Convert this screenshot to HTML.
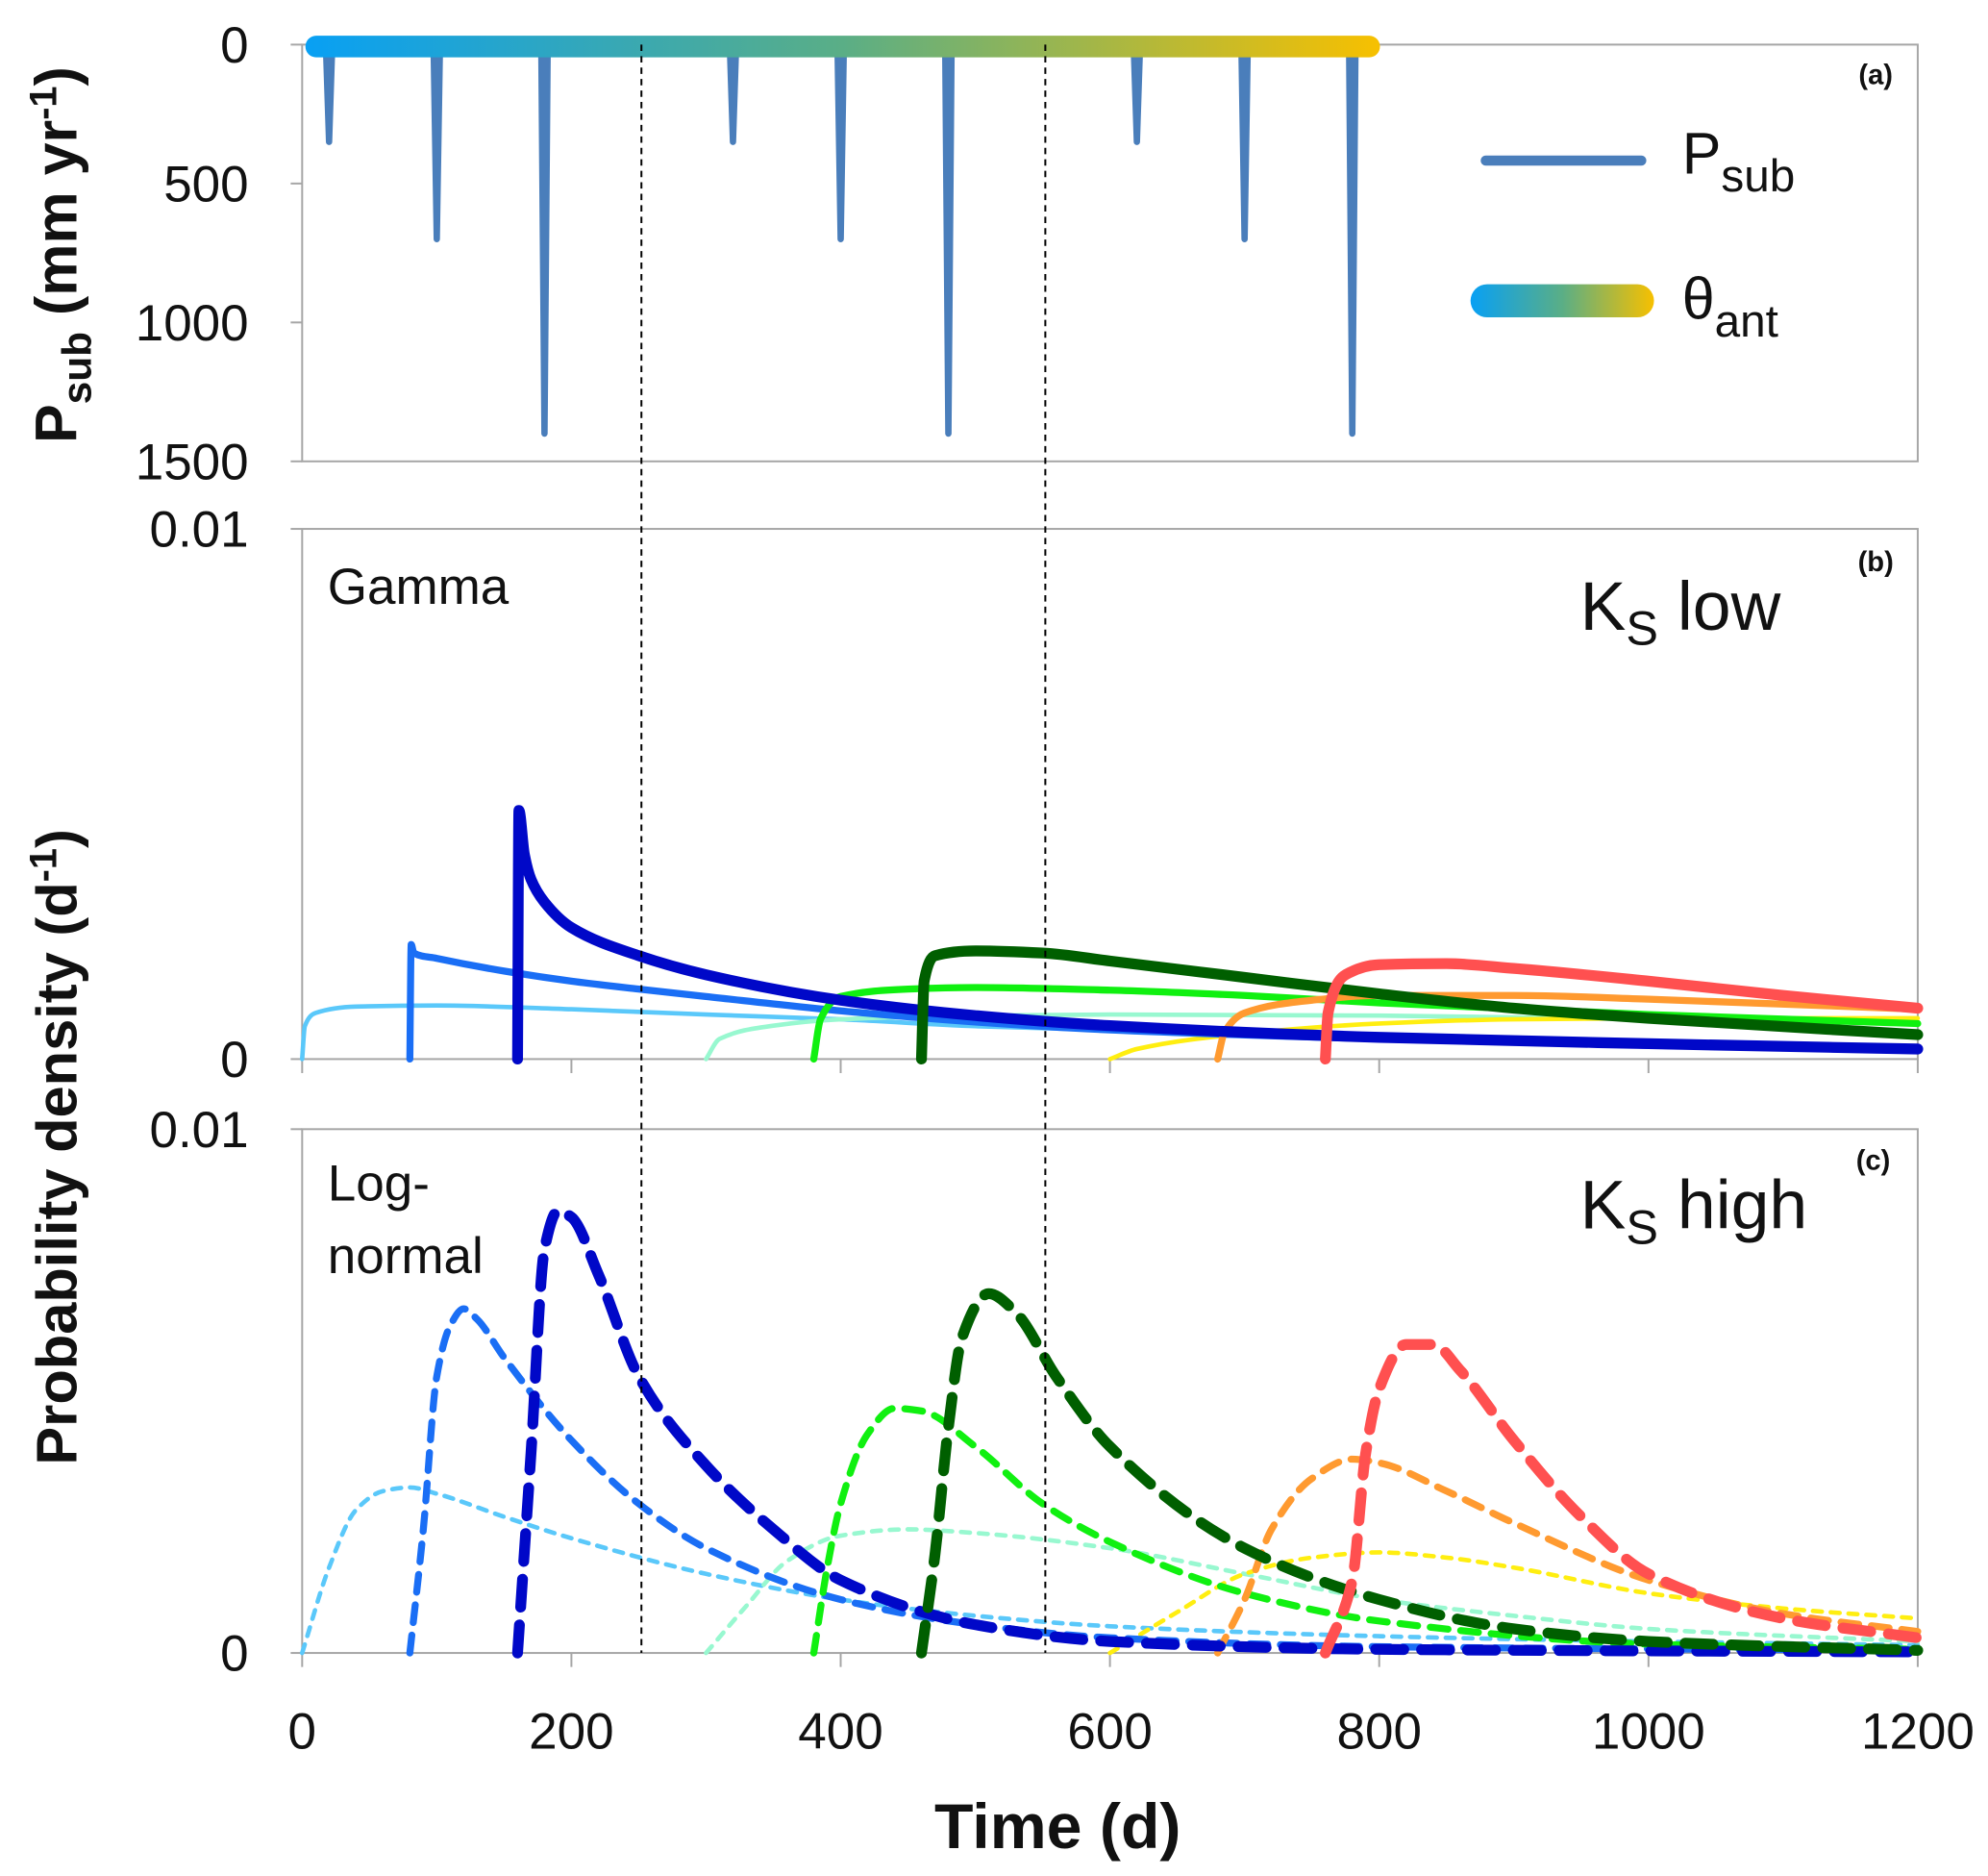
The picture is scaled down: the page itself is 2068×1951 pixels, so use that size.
<!DOCTYPE html>
<html><head><meta charset="utf-8"><style>
html,body{margin:0;padding:0;background:#fff}
svg{display:block}
text{font-family:"Liberation Sans",sans-serif;fill:#111}
</style></head><body>
<svg id="chart" width="2068" height="1951" viewBox="0 0 1560 1472" xmlns="http://www.w3.org/2000/svg">
<defs>
<linearGradient id="thetaGrad" gradientUnits="objectBoundingBox" x1="0" x2="1" y1="0" y2="0">
<stop offset="0" stop-color="#08a0f4"/><stop offset="0.5" stop-color="#5aae86"/><stop offset="1" stop-color="#f7c000"/>
</linearGradient>
</defs>
<g id="frames"></g>
<g id="marks"></g>
<g id="labels">
<text transform="translate(60,200) rotate(-90)" text-anchor="middle" font-size="46" font-weight="bold">P<tspan font-size="32" dy="11">sub</tspan><tspan dy="-11"> (mm yr</tspan><tspan font-size="30" dy="-16">-1</tspan><tspan dy="16">)</tspan></text>
<text transform="translate(60,900) rotate(-90)" text-anchor="middle" font-size="45" font-weight="bold">Probability density (d<tspan font-size="30" dy="-16">-1</tspan><tspan dy="16">)</tspan></text>
<text x="830" y="1450" text-anchor="middle" font-size="50" font-weight="bold">Time (d)</text>
<text x="1472" y="66" text-anchor="middle" font-size="22" font-weight="bold">(a)</text>
<text x="1472" y="448" text-anchor="middle" font-size="22" font-weight="bold">(b)</text>
<text x="1470" y="918" text-anchor="middle" font-size="22" font-weight="bold">(c)</text>
<text x="257" y="474" font-size="40">Gamma</text>
<text x="1240" y="494" font-size="54">K<tspan font-size="38" dy="12">S</tspan><tspan dy="-12"> low</tspan></text>
<text x="257" y="942" font-size="40">Log-</text>
<text x="257" y="999" font-size="40">normal</text>
<text x="1240" y="964" font-size="54">K<tspan font-size="38" dy="12">S</tspan><tspan dy="-12"> high</tspan></text>
<line x1="1166" y1="126" x2="1288" y2="126" stroke="#4a7ebb" stroke-width="8" stroke-linecap="round"/>
<text x="1320" y="136" font-size="46">P<tspan font-size="36" dy="14">sub</tspan></text>
<rect x="1154" y="223" width="144" height="26" rx="13" fill="url(#thetaGrad)"/>
<text x="1320" y="250" font-size="46">θ<tspan font-size="36" dy="14">ant</tspan></text>
</g>
</svg>
<script>
// ---- data ----
const xTicks = [0, 200, 400, 600, 800, 1000, 1200];
const yTicksA = [0, 500, 1000, 1500];
const yTickLabelsDensity = ["0", "0.01"];
const spikeTimes = [20, 100, 180, 320, 400, 480, 620, 700, 780];
const spikeDepths = [350, 700, 1400, 350, 700, 1400, 350, 700, 1400];
const thetaStart = 10, thetaEnd = 793;
const dividerTimes = [252, 552];
const gammaColors = ["#5ac8fa","#1a6ef5","#0008c8","#98f8d0","#10f010","#005f00","#ffee10","#ff9a30","#ff5050"];
const gammaWidths = [3.5, 5.5, 8.5, 3.5, 5.5, 8.5, 3.5, 5.5, 8.5];
// panel (b) gamma, density in 1e-3 per day
const gT0 = [0,2,10,40,100,200,300,400,500,600,800,1000,1200];
const gV0 = [0,0.62,0.87,0.99,1.01,0.94,0.84,0.75,0.62,0.55,0.43,0.31,0.22];
const gT1 = [80,81,83,100,150,200,250,300,400,500,600,800,1000,1200];
const gV1 = [0,2.16,2.0,1.9,1.66,1.47,1.32,1.18,0.91,0.70,0.55,0.38,0.26,0.17];
const gT2 = [160,161,165,170,180,200,250,300,400,500,600,800,1000,1200];
const gV2 = [0,4.69,3.87,3.39,2.96,2.48,1.95,1.59,1.11,0.82,0.63,0.41,0.29,0.19];
const gT3 = [300,310,350,400,500,600,800,1000,1200];
const gV3 = [0,0.38,0.63,0.75,0.82,0.84,0.82,0.75,0.67];
const gT4 = [380,385,400,450,500,600,700,800,1000,1200];
const gV4 = [0,0.75,1.18,1.32,1.35,1.30,1.20,1.06,0.84,0.67];
const gT5 = [460,462,470,500,550,600,700,800,900,1000,1200];
const gV5 = [0,1.47,1.95,2.04,2.0,1.85,1.54,1.23,0.96,0.77,0.46];
const gT6 = [600,620,700,800,900,1000,1200];
const gV6 = [0,0.19,0.48,0.67,0.75,0.77,0.77];
const gT7 = [680,685,700,750,800,900,1000,1200];
const gV7 = [0,0.5,0.87,1.11,1.2,1.2,1.13,0.94];
const gT8 = [760,762,775,800,850,900,1000,1100,1200];
const gV8 = [0,0.87,1.59,1.78,1.80,1.71,1.47,1.2,0.96];
// panel (c) log-normal
const lT0 = [0,20,40,60,80,100,150,200,300,400,500,600,800,1000,1200];
const lV0 = [0,1.63,2.73,3.09,3.16,3.04,2.60,2.19,1.51,1.02,0.71,0.51,0.32,0.22,0.15];
const lT1 = [80,90,100,110,120,130,150,200,250,300,400,500,600,800,1200];
const lV1 = [0,2.36,5.28,6.25,6.57,6.37,5.64,4.06,2.85,2.0,1.02,0.54,0.29,0.12,0.05];
const lT2 = [160,170,180,190,200,220,250,300,350,400,500,600,800,1200];
const lV2 = [0,3.82,7.71,8.44,8.32,7.23,5.28,3.58,2.36,1.39,0.54,0.22,0.07,0.02];
const lT3 = [300,330,360,400,450,500,600,700,800,900,1000,1200];
const lV3 = [0,0.9,1.75,2.24,2.36,2.29,2.0,1.51,1.02,0.71,0.46,0.22];
const lT4 = [380,390,400,420,440,460,500,550,600,700,800,1000,1200];
const lV4 = [0,1.63,2.85,4.18,4.67,4.62,3.94,2.85,2.12,1.14,0.61,0.17,0.07];
const lT5 = [460,470,480,490,510,530,560,600,700,800,900,1000,1200];
const lV5 = [0,1.87,4.31,6.01,6.86,6.5,5.28,3.94,2.0,1.02,0.46,0.22,0.05];
const lT6 = [600,650,700,750,800,850,900,1000,1100,1200];
const lV6 = [0,0.78,1.51,1.82,1.92,1.82,1.63,1.14,0.85,0.66];
const lT7 = [680,700,720,750,780,800,850,900,1000,1100,1200];
const lV7 = [0,1.02,2.36,3.33,3.70,3.63,3.09,2.48,1.39,0.75,0.41];
const lT8 = [760,780,790,800,820,840,860,900,950,1000,1100,1200];
const lV8 = [0,1.39,3.82,5.04,5.89,5.89,5.40,4.06,2.60,1.51,0.66,0.29];

// ---- layout ----
const NS = "http://www.w3.org/2000/svg";
const X0 = 237, X1 = 1505;
const x = t => X0 + (t / 1200) * (X1 - X0);
const yA = v => 35 + (v / 1500) * (362 - 35);
const yB = v => 831 - (v / 10) * (831 - 415);
const yC = v => 1297 - (v / 10) * (1297 - 886);
const frames = document.getElementById('frames');
const marks = document.getElementById('marks');
const labels = document.getElementById('labels');
function mk(tag, attrs, parent) {
  const e = document.createElementNS(NS, tag);
  for (const k in attrs) e.setAttribute(k, attrs[k]);
  parent.appendChild(e);
  return e;
}
const panels = [[35, 362, 'a'], [415, 831, 'b'], [886, 1297, 'c']];
panels.forEach(p => {
  const r = mk('rect', {x: X0, y: p[0], width: X1 - X0, height: p[1] - p[0], fill: 'none', stroke: '#a6a6a6', 'stroke-width': 1.5}, frames);
  
  
});
yTicksA.forEach(v => {
  const l = mk('line', {x1: X0 - 9, x2: X0, y1: yA(v), y2: yA(v), stroke: '#a6a6a6', 'stroke-width': 1.5}, frames);
  
  
  const t = mk('text', {x: 195, y: yA(v) + 14, 'text-anchor': 'end', 'font-size': 40}, labels);
  t.textContent = String(v);
  
  
});
[[yB, 'b'], [yC, 'c']].forEach(([yf, nm]) => {
  [0, 10].forEach((v, i) => {
    const l = mk('line', {x1: X0 - 9, x2: X0, y1: yf(v), y2: yf(v), stroke: '#a6a6a6', 'stroke-width': 1.5}, frames);
    
    
    const t = mk('text', {x: 195, y: yf(v) + 14, 'text-anchor': 'end', 'font-size': 40}, labels);
    t.textContent = yTickLabelsDensity[i];
    
    
  });
});
xTicks.forEach(v => {
  [831, 1297].forEach(yb => {
    const l = mk('line', {x1: x(v), x2: x(v), y1: yb, y2: yb + 11, stroke: '#a6a6a6', 'stroke-width': 1.5}, frames);
    
    
  });
  const t = mk('text', {x: x(v), y: 1372, 'text-anchor': 'middle', 'font-size': 40}, labels);
  t.textContent = String(v);
  
  
});
spikeTimes.forEach((tm, i) => {
  const cx = x(tm), d = yA(spikeDepths[i]);
  const p = mk('path', {d: `M${cx - 5},${yA(0)} L${cx + 5},${yA(0)} L${cx + 2.5},${d} A2.5,2.5 0 0 1 ${cx - 2.5},${d} Z`, fill: '#4a7ebb'}, marks);
  
  
});
const tb = mk('rect', {x: x(thetaStart) - 8, y: 28, width: x(thetaEnd) - x(thetaStart) + 16, height: 17, rx: 8.5, fill: 'url(#thetaGrad)'}, marks);


function monoPath(xs, ys) {
  const n = xs.length, dx = [], m = [], s = [];
  for (let i = 0; i < n - 1; i++) { dx.push(xs[i + 1] - xs[i]); s.push((ys[i + 1] - ys[i]) / dx[i]); }
  m[0] = s[0]; m[n - 1] = s[n - 2];
  for (let i = 1; i < n - 1; i++) m[i] = (s[i - 1] * s[i] <= 0) ? 0 : 3 * (dx[i - 1] + dx[i]) / ((2 * dx[i] + dx[i - 1]) / s[i - 1] + (dx[i] + 2 * dx[i - 1]) / s[i]);
  let d = `M${xs[0]},${ys[0]}`;
  for (let i = 0; i < n - 1; i++) {
    const h = dx[i] / 3;
    d += ` C${xs[i] + h},${ys[i] + m[i] * h} ${xs[i + 1] - h},${ys[i + 1] - m[i + 1] * h} ${xs[i + 1]},${ys[i + 1]}`;
  }
  return d;
}
const gammaT = [gT0, gT1, gT2, gT3, gT4, gT5, gT6, gT7, gT8];
const gammaV = [gV0, gV1, gV2, gV3, gV4, gV5, gV6, gV7, gV8];
const lognT = [lT0, lT1, lT2, lT3, lT4, lT5, lT6, lT7, lT8];
const lognV = [lV0, lV1, lV2, lV3, lV4, lV5, lV6, lV7, lV8];
const drawOrder = [0, 3, 6, 1, 4, 7, 2, 5, 8];
drawOrder.forEach(i => {
  const p = mk('path', {d: monoPath(gammaT[i].map(x), gammaV[i].map(yB)), fill: 'none', stroke: gammaColors[i], 'stroke-width': gammaWidths[i], 'stroke-linejoin': 'round', 'stroke-linecap': 'round'}, marks);
  
  
});
drawOrder.forEach(i => {
  const w = gammaWidths[i];
  const dash = w < 4 ? '7,7' : (w < 6 ? '14,10' : '22,14');
  const p = mk('path', {d: monoPath(lognT[i].map(x), lognV[i].map(yC)), fill: 'none', stroke: gammaColors[i], 'stroke-width': w, 'stroke-dasharray': dash, 'stroke-linejoin': 'round', 'stroke-linecap': 'round'}, marks);
  
  
});
dividerTimes.forEach(tm => {
  const l = mk('line', {x1: x(tm), x2: x(tm), y1: 35, y2: 1297, stroke: '#000', 'stroke-width': 1.5, 'stroke-dasharray': '5,4'}, marks);
  
  
});
</script>
</body></html>
